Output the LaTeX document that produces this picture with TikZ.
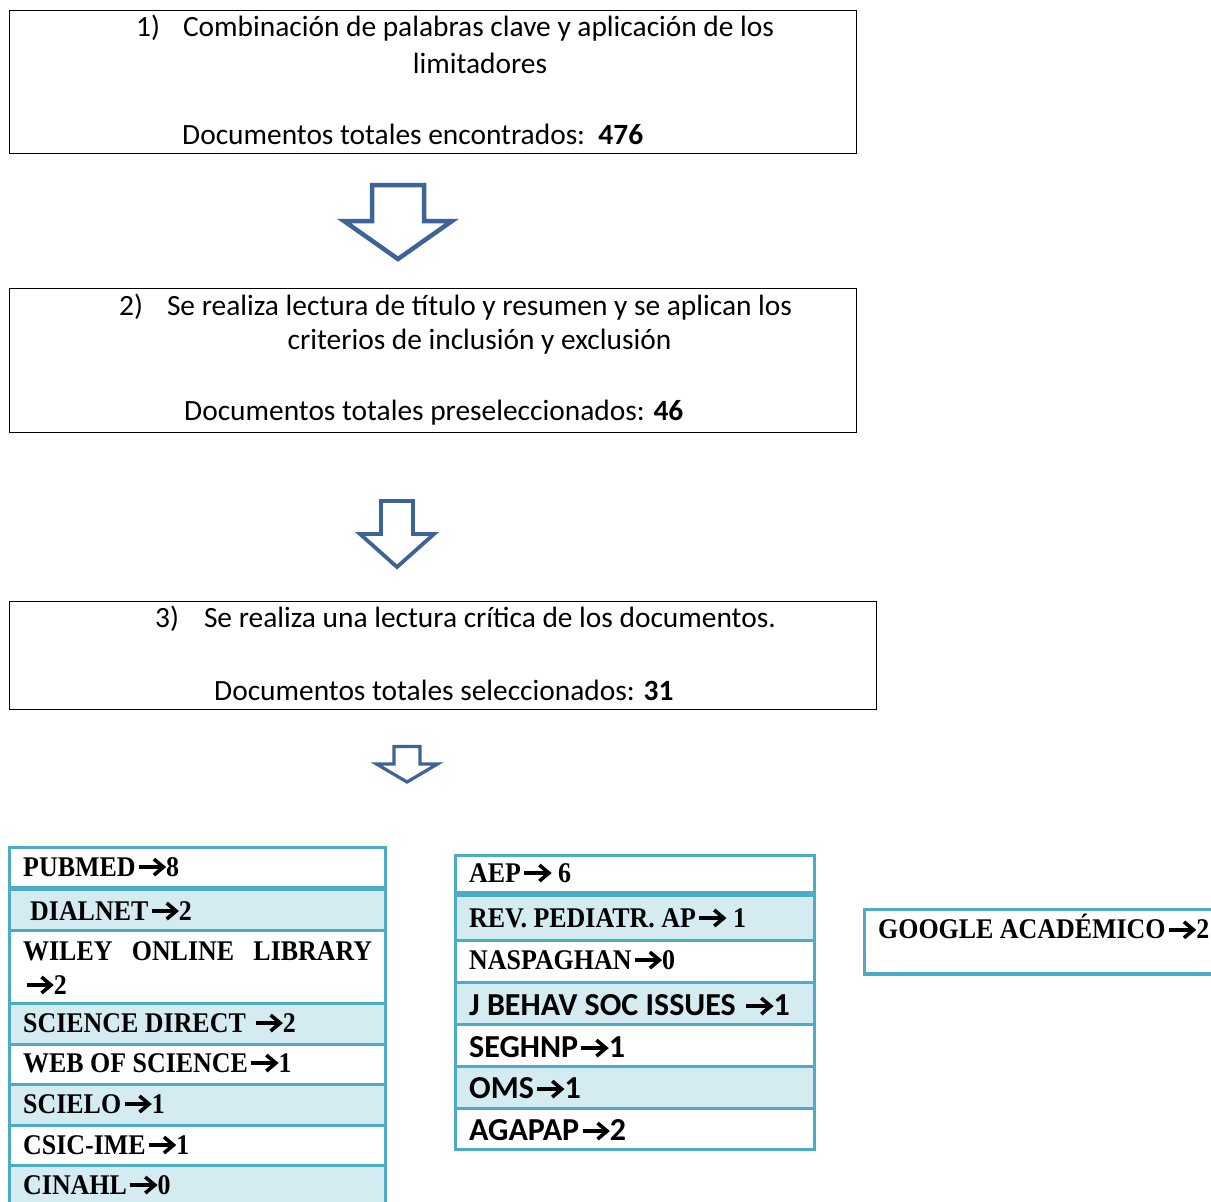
\documentclass[tikz,border=0pt]{standalone}
\usepackage{fontspec}
\setmainfont{Carlito}
\newfontfamily\tabserif[FakeStretch=0.91]{Liberation Serif}
\definecolor{tealline}{HTML}{4BACC6}
\definecolor{rowshade}{HTML}{D5EBF2}
\definecolor{arrowblue}{HTML}{3E6496}
% bold chevron arrow used inside the table rows
\newcommand{\ar}{\hspace{1.5pt}\tikz[x=1pt,y=1pt,baseline=0pt,line width=3.6pt]{%
  \draw[line cap=butt] (0,9) -- (24,9);
  \draw[line join=miter] (15,1) -- (24.5,9) -- (15,17);}\hspace{1pt}}
% hollow block arrow pointing down: centre x, top, shoulder, tip, half shaft, half head
\newcommand{\downshape}[6]{%
  \draw[blockarrow] (#1-#5,#2) -- (#1+#5,#2) -- (#1+#5,#3) -- (#1+#6,#3)
    -- (#1,#4) -- (#1-#6,#3) -- (#1-#5,#3) -- cycle;}

\begin{document}
\begin{tikzpicture}[x=1pt,y=-1pt,
  stepbox/.style={draw=black, line width=1.6pt, inner sep=0pt, anchor=north west},
  boxtext/.style={inner sep=0pt, font=\fontsize{29.4}{34}\selectfont},
  tabcell/.style={draw=tealline, line width=3pt},
  srow/.style={inner sep=0pt, anchor=west, font=\tabserif\bfseries\fontsize{28.5}{34}\selectfont},
  crow/.style={inner sep=0pt, anchor=west, font=\bfseries\fontsize{32}{34}\selectfont},
  blockarrow/.style={draw=arrowblue, fill=white, line join=miter}]
\clip (0,0) rectangle (1211,1202);
\fill[white] (0,0) rectangle (1211,1202);

% step boxes
\node[stepbox, minimum width=847pt, minimum height=143pt] (find) at (8.8,9.8) {};
\node[stepbox, minimum width=847pt, minimum height=144pt] (screen) at (8.8,287.8) {};
\node[stepbox, minimum width=867pt, minimum height=108pt] (read) at (8.8,600.8) {};

\node[boxtext, anchor=west] (find1) at (136,28) {1)\hspace{23pt}Combinación de palabras clave y aplicación de los};
\node[boxtext] (find2) at (480,63) {limitadores};
\node[boxtext, anchor=west] (find3) at (182,134) {Documentos totales encontrados:\ \ \textbf{476}};

\node[boxtext, anchor=west] (screen1) at (119,307) {2)\hspace{24pt}Se realiza lectura de título y resumen y se aplican los};
\node[boxtext] (screen2) at (479.5,342) {criterios de inclusión y exclusión};
\node[boxtext, anchor=west] (screen3) at (184,413) {Documentos totales preseleccionados: \textbf{46}};

\node[boxtext, anchor=west] (read1) at (155,619) {3)\hspace{25pt}Se realiza una lectura crítica de los documentos.};
\node[boxtext, anchor=west] (read3) at (214,690) {Documentos totales seleccionados: \textbf{31}};

% block arrows
\begin{scope}[line width=4.5pt]
\downshape{398}{185}{221}{259}{26}{54}
\end{scope}
\begin{scope}[line width=3.8pt]
\downshape{397}{501}{534}{567}{16}{37}
\end{scope}
\begin{scope}[line width=3.2pt]
\downshape{407}{746.5}{764}{782}{13}{30.5}
\end{scope}

% left table
\foreach \ya/\yb/\shd in {847/888/white, 888/930/rowshade, 930/1003/white,
  1003/1044/rowshade, 1044/1084/white, 1084/1125/rowshade, 1125/1165/white,
  1165/1215/rowshade}
  \draw[tabcell, fill=\shd] (9.5,\ya) rectangle (385,\yb);
\draw[tealline, line width=5pt] (9.5,888) -- (385,888);

\node[srow] (pubmed) at (23,867) {PUBMED\ar8};
\node[srow] (dialnet) at (30,911) {DIALNET\ar2};
\node[srow, text width=349pt, align=left] (wiley) at (23,968) {WILEY\hfill ONLINE\hfill LIBRARY\\\ar2};
\node[srow] (scidirect) at (23,1023) {SCIENCE DIRECT \ar2};
\node[srow] (wos) at (23,1063) {WEB OF SCIENCE\ar1};
\node[srow] (scielo) at (23,1104) {SCIELO\ar1};
\node[srow] (csic) at (23,1145) {CSIC-IME\ar1};
\node[srow] (cinahl) at (23,1185) {CINAHL\ar0};

% right table
\foreach \ya/\yb/\shd in {855/894/white, 894/940/rowshade, 940/982/white,
  982/1024/rowshade, 1024/1066/white, 1066/1108/rowshade, 1108/1149/white}
  \draw[tabcell, fill=\shd] (455.5,\ya) rectangle (814.5,\yb);
\draw[tealline, line width=6pt] (455.5,894) -- (814.5,894);

\node[srow] (aep) at (469,873) {AEP\ar\ 6};
\node[srow] (revped) at (469,918) {REV. PEDIATR. AP\ar\ 1};
\node[srow] (naspghan) at (469,960) {NASPAGHAN\ar0};
\node[crow] (jbehav) at (469,1005) {J BEHAV SOC ISSUES \ar1};
\node[crow] (seghnp) at (469,1047) {SEGHNP\ar1};
\node[crow] (oms) at (469,1088) {OMS\ar1};
\node[crow] (agapap) at (469,1130) {AGAPAP\ar2};

% google box
\draw[tealline, line width=3.5pt] (864.5,909.5) rectangle (1230,974);
\node[srow] (google) at (878,927) {GOOGLE ACADÉMICO\ar2};
\end{tikzpicture}
\end{document}
